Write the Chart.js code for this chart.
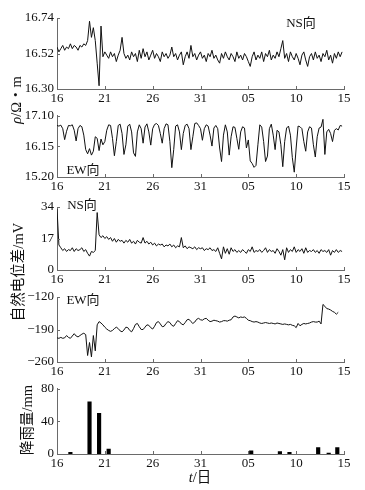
<!DOCTYPE html>
<html>
<head>
<meta charset="utf-8">
<script src="https://cdn.jsdelivr.net/npm/chart.js@4"></script>
<style>
  html, body { margin: 0; padding: 0; background: #fff; }
  #wrap { position: relative; width: 365px; height: 490px; overflow: hidden; }
  canvas { position: absolute; left: 0; }
  .lbl { position: absolute; font-family: "Liberation Serif", "Noto Sans CJK SC", serif; font-size: 13px; color: #111; white-space: nowrap; transform: translate(-50%, -50%); line-height: 1; }
  .ytitle { position: absolute; font-family: "Liberation Serif", "Noto Sans CJK SC", serif; font-size: 14.5px; color: #111; white-space: nowrap; transform: translate(-50%, -50%) rotate(-90deg); line-height: 1; }
</style>
</head>
<body>
<div id="wrap">
  <canvas id="c1" width="365" height="109" style="top:0px"></canvas>
  <canvas id="c2" width="365" height="92" style="top:105px"></canvas>
  <canvas id="c3" width="365" height="97" style="top:193px"></canvas>
  <canvas id="c4" width="365" height="96" style="top:286px"></canvas>
  <canvas id="c5" width="365" height="96" style="top:378px"></canvas>
  <div class="lbl" style="left:301px;top:22px">NS向</div>
  <div class="lbl" style="left:83px;top:169px">EW向</div>
  <div class="lbl" style="left:82px;top:204px">NS向</div>
  <div class="lbl" style="left:83px;top:299px">EW向</div>
  <div class="ytitle" style="left:16px;top:100px"><i>ρ</i>/Ω・m</div>
  <div class="ytitle" style="left:18px;top:272px">自然电位差/mV</div>
  <div class="ytitle" style="left:27px;top:420px">降雨量/mm</div>
  <div class="lbl" style="left:200px;top:477px;font-size:14.5px"><i>t</i>/日</div>
</div>
<script>
// ---- data (sampling every 0.2 day starting at the 16th) ----
const STEP = 0.2;
const xTickPos = [0, 5, 10, 15, 20, 25, 30];
const xTickLabels = ['16', '21', '26', '31', '05', '10', '15'];

const yTicksNsRho = [16.30, 16.52, 16.74];
const yTicksEwRho = [15.20, 16.15, 17.10];
const yTicksNsPot = [0, 17, 34];
const yTicksEwPot = [-260, -190, -120];
const yTicksRain = [0, 20, 40, 60, 80];

// NS resistivity (Ω·m)
const nsRho = [
16.56,16.53,16.55,16.57,16.54,16.56,16.55,16.58,16.55,16.57,
16.56,16.54,16.57,16.56,16.58,16.57,16.60,16.72,16.62,16.68,
16.60,16.46,16.32,16.69,16.50,16.53,16.51,16.49,16.53,16.50,
16.52,16.47,16.51,16.54,16.62,16.52,16.49,16.51,16.48,16.53,
16.50,16.52,16.47,16.54,16.49,16.55,16.50,16.53,16.48,16.51,
16.54,16.49,16.52,16.50,16.47,16.53,16.50,16.52,16.49,16.51,
16.56,16.50,16.52,16.48,16.51,16.53,16.45,16.50,16.53,16.49,
16.57,16.50,16.52,16.48,16.51,16.53,16.49,16.51,16.47,16.52,
16.50,16.54,16.49,16.51,16.48,16.46,16.52,16.49,16.53,16.50,
16.48,16.52,16.50,16.47,16.53,16.49,16.51,16.48,16.52,16.50,
16.47,16.44,16.50,16.53,16.48,16.51,16.49,16.53,16.47,16.52,
16.50,16.54,16.48,16.51,16.49,16.53,16.50,16.55,16.60,16.49,
16.52,16.47,16.53,16.50,16.48,16.52,16.49,16.45,16.51,16.53,
16.48,16.44,16.50,16.52,16.48,16.53,16.49,16.51,16.47,16.52,
16.50,16.54,16.48,16.51,16.46,16.52,16.49,16.53,16.50,16.53
];

// EW resistivity (Ω·m)
const ewRho = [
16.80,16.78,16.81,16.70,16.36,16.62,16.80,16.79,16.82,16.65,
16.32,16.70,16.80,16.76,16.50,16.05,15.92,16.08,15.88,16.00,
16.45,16.40,16.02,16.38,16.20,16.30,16.65,16.82,16.80,16.40,
15.86,16.30,16.80,16.84,16.55,15.90,16.20,16.78,16.84,16.60,
15.95,15.84,16.60,16.82,16.70,16.25,16.75,16.85,16.60,16.19,
16.70,16.83,16.86,16.80,16.55,16.25,16.70,16.85,16.82,16.30,
15.49,16.05,16.78,16.82,16.60,16.05,16.55,16.80,16.84,16.70,
16.05,16.45,16.86,16.88,16.80,16.70,16.34,16.70,16.82,16.78,
16.50,16.16,16.72,16.80,16.70,16.10,15.68,16.50,16.82,16.60,
15.88,16.45,16.76,16.74,16.40,16.06,16.60,16.76,16.72,16.10,
16.35,15.70,15.62,15.50,15.56,16.20,16.82,16.75,16.30,15.68,
15.85,16.70,16.84,16.50,16.05,16.65,16.60,16.20,15.52,16.30,
16.72,16.78,16.50,15.80,15.35,16.10,16.78,16.76,16.70,16.30,
16.00,16.60,16.76,16.72,16.20,15.82,16.45,16.72,16.75,16.99,
15.90,16.60,16.68,16.55,16.30,16.65,16.70,16.66,16.80,16.78
];

// NS self-potential difference (mV)
const nsPot = [
33,13.5,12,10.5,11.5,10,11,10.5,12,10,
11.5,10.5,11,12,10,11,9,7.5,10,9.5,
10.5,31,19,17.5,18.5,17,18,16.5,17.5,15.5,
17,15,16.5,15.5,16,14.5,16,15,16.5,14.5,
15.5,14,16,15,14.5,17.5,14.5,15.5,14,15,
13.5,14.5,13,14,13.5,14,12.5,13.5,13,14,
12.5,13.5,12,13,12.5,17.5,12,13,11.5,12.5,
12,11.5,12.5,11,12,11.5,12,10.5,11.5,11,
12,10.5,11,10,12,9,6,12.5,9,11.5,
8.5,12,10,11,9.5,10.5,9.5,11,10,9,
11,10,12.5,9.5,10.5,10,11,9.5,10.5,12,
9.5,11,10,10.5,9,11.5,10,8,11,5.5,
12,9.5,11,10,12.5,9.5,11,10,11.5,9,
12,9.5,10.5,10,11,9.5,10.5,9,11,10,
10.5,9.5,11,8,10.5,9.5,11,9.5,10.5,10
];

// EW self-potential difference (mV)
const ewPot = [
-208,-209,-207,-209,-208,-203,-207,-209,-204,-199,
-204,-206,-203,-200,-198,-201,-246,-218,-249,-203,
-236,-180,-173,-176,-180,-185,-189,-192,-194,-192,
-188,-185,-188,-193,-195,-191,-185,-186,-192,-195,
-188,-179,-177,-184,-190,-190,-185,-180,-181,-186,
-189,-183,-175,-173,-178,-184,-183,-177,-173,-175,
-181,-183,-177,-171,-173,-178,-180,-175,-169,-168,
-173,-177,-174,-168,-166,-169,-170,-167,-166,-170,
-173,-172,-170,-171,-172,-174,-173,-171,-171,-172,
-170,-169,-163,-161,-163,-165,-163,-164,-163,-166,
-170,-171,-173,-174,-173,-174,-176,-177,-176,-175,
-176,-177,-176,-177,-178,-176,-177,-178,-179,-178,
-179,-180,-179,-181,-182,-186,-177,-182,-179,-177,
-178,-177,-176,-174,-173,-174,-174,-172,-178,-136,
-140,-145,-146,-148,-151,-153,-157,-153
];

// rainfall (mm), day position of each bar
const rainDay = [1.4, 3.4, 4.4, 5.4, 20.3, 23.3, 24.3, 27.3, 28.4, 29.3];
const rainMm  = [2, 64, 50, 6, 4, 3, 2, 8, 1, 8];

// ---- rendering ----
const AXIS = '#6a6a6a';
const FONT = { family: '"Liberation Serif", "Times New Roman", serif', size: 13 };

const inwardTicks = {
  id: 'inwardTicks',
  afterDraw(chart) {
    const { ctx, chartArea: a, scales } = chart;
    const x = scales.x, y = scales.y;
    ctx.save();
    ctx.strokeStyle = AXIS;
    ctx.lineWidth = 1;
    ctx.beginPath();
    x.ticks.forEach(t => {
      const px = Math.round(x.getPixelForValue(t.value)) + 0.5;
      ctx.moveTo(px, a.bottom); ctx.lineTo(px, a.bottom - 3);
    });
    y.ticks.forEach(t => {
      const py = Math.round(y.getPixelForValue(t.value)) + 0.5;
      ctx.moveTo(a.left, py); ctx.lineTo(a.left + 3, py);
    });
    ctx.stroke();
    ctx.restore();
  }
};

function toPoints(arr) {
  return arr.map((v, i) => ({ x: +(i * STEP).toFixed(2), y: v }));
}

function makeChart(id, type, data, yTicks, fmt, padTop, barOpts) {
  const ds = type === 'line'
    ? { data: data, borderColor: '#111', borderWidth: 1, pointRadius: 0, tension: 0, fill: false }
    : Object.assign({ data: data, backgroundColor: '#000', borderWidth: 0 }, barOpts);
  return new Chart(document.getElementById(id), {
    type: type,
    data: { datasets: [ds] },
    plugins: [inwardTicks],
    options: {
      responsive: false,
      animation: false,
      devicePixelRatio: 1,
      layout: { padding: { left: 0, right: 21, top: padTop, bottom: 0 } },
      plugins: { legend: { display: false }, tooltip: { enabled: false } },
      scales: {
        x: {
          type: 'linear', min: 0, max: 30, offset: false,
          grid: { display: false, drawTicks: false },
          border: { display: true, color: AXIS, width: 1 },
          afterBuildTicks: ax => { ax.ticks = xTickPos.map(v => ({ value: v })); },
          afterFit: ax => { ax.height = 20; },
          ticks: { autoSkip: false, maxRotation: 0, padding: 2, color: '#111', font: FONT,
                   callback: (v, i) => xTickLabels[i] }
        },
        y: {
          min: yTicks[0], max: yTicks[yTicks.length - 1],
          grid: { display: false, drawTicks: false },
          border: { display: true, color: AXIS, width: 1 },
          afterBuildTicks: ax => { ax.ticks = yTicks.map(v => ({ value: v })); },
          afterFit: ax => { ax.width = 57; },
          ticks: { padding: 3, color: '#111', font: FONT, callback: v => fmt(v) }
        }
      }
    }
  });
}

const f2 = v => v.toFixed(2);
const f0 = v => String(Math.round(v)).replace('-', '\u2212');

makeChart('c1', 'line', toPoints(nsRho), yTicksNsRho, f2, 18);
makeChart('c2', 'line', toPoints(ewRho), yTicksEwRho, f2, 5);
makeChart('c3', 'line', toPoints(nsPot), yTicksNsPot, f0, 14);
makeChart('c4', 'line', toPoints(ewPot), yTicksEwPot, f0, 11);
makeChart('c5', 'bar', rainDay.map((d, i) => ({ x: d, y: rainMm[i] })), yTicksRain, f0, 7,
          { barThickness: 3.5 });
</script>
</body>
</html>
